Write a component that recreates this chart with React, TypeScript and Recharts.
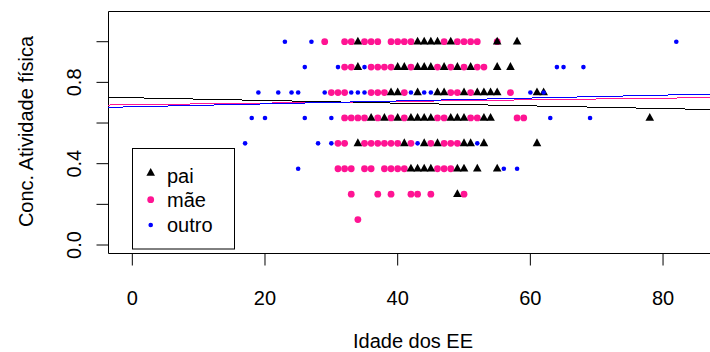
import React from 'react';
import {
  ScatterChart,
  Scatter,
  XAxis,
  YAxis,
  ReferenceLine,
  ReferenceArea,
  Customized,
} from 'recharts';

// Concentration levels (one row of points per level)
const concLevels = [1, 0.875, 0.75, 0.625, 0.5, 0.375, 0.25, 0.125];

// Ages (Idade dos EE) per concentration level, by group
const paiAges = [
  [34, 43, 44, 45, 46, 48, 55, 58],
  [34, 40, 41, 43, 44, 45, 47, 49, 51, 55, 57],
  [39, 40, 43, 46, 47, 50, 52, 53, 54, 55, 61, 62],
  [36, 38, 40, 42, 43, 44, 45, 48, 49, 50, 53, 54, 78],
  [34, 41, 44, 46, 50, 51, 53, 61],
  [42, 43, 44, 45, 49, 50, 52, 55],
  [49],
  [],
];
const maeAges = [
  [29, 32, 33, 35, 36, 37, 39, 40, 41, 42, 47, 49, 50, 51, 52, 55],
  [32, 33, 36, 37, 38, 39, 42, 46, 48, 50, 52, 53],
  [30, 31, 32, 36, 37, 38, 41, 48, 49, 51, 57],
  [32, 33, 34, 35, 37, 39, 41, 46, 47, 51, 52, 58, 59],
  [31, 32, 35, 36, 37, 38, 39, 40, 42, 45, 47, 48, 49],
  [31, 32, 33, 35, 36, 38, 39, 40, 41, 46, 47, 48],
  [33, 37, 39, 42, 43, 45, 50],
  [34],
];
const outroAges = [
  [23, 27, 82],
  [26, 31, 35, 64, 65, 68],
  [19, 22, 24, 25, 29, 33, 34, 35, 42, 44, 45, 60, 62],
  [18, 20, 26, 30, 63, 69],
  [17, 28, 30, 43, 52],
  [25, 56, 58],
  [],
  [],
];

const seriesNames = ['pai', 'mãe', 'outro'];
const seriesColors = ['#000000', '#FF1493', '#0000FF'];

// Regression lines (abline) per group: intercept and slope
const lineIntercepts = [0.7242, 0.69, 0.6798];
const lineSlopes = [-0.000663, 0.000403, 0.000718];

const xTicks = [0, 20, 40, 60, 80];
const yTicks = [0, 0.2, 0.4, 0.6, 0.8, 1.0];
const yTickLabels = ['0.0', '', '0.4', '', '0.8', ''];

const xDomain = [-3.59, 88.36];
const yDomain = [-0.0418, 1.1486];

const FONT = '"Liberation Sans", Arial, sans-serif';

const toPoints = (ages: number[][]) =>
  ages.flatMap((row, i) => row.map((a) => ({ x: a, y: concLevels[i] })));

const paiData = toPoints(paiAges);
const maeData = toPoints(maeAges);
const outroData = toPoints(outroAges);

const triPath = (cx: number, cy: number) =>
  `M${cx},${cy - 5} L${cx + 4.3},${cy + 2.8} L${cx - 4.3},${cy + 2.8} Z`;

const TriShape = (p: any) => <path d={triPath(p.cx, p.cy)} fill={seriesColors[0]} />;
const MaeShape = (p: any) => <circle cx={p.cx} cy={p.cy} r={3.4} fill={seriesColors[1]} />;
const OutroShape = (p: any) => <circle cx={p.cx} cy={p.cy} r={2.3} fill={seriesColors[2]} />;

const XTick = (p: any) => (
  <text x={p.x} y={305} textAnchor="middle" fontSize={20} fontFamily={FONT} fill="#000">
    {p.payload.value}
  </text>
);

const YTick = (p: any) => {
  const label = yTickLabels[yTicks.indexOf(p.payload.value)];
  if (!label) return <g />;
  return (
    <text
      x={81.5}
      y={p.y}
      transform={`rotate(-90, 81.5, ${p.y})`}
      textAnchor="middle"
      fontSize={20}
      fontFamily={FONT}
      fill="#000"
    >
      {label}
    </text>
  );
};

const Decorations = () => {
  const legendYs = [173, 199.7, 225];
  const legendBase = [183.3, 207.3, 231.7];
  return (
    <g>
      <text
        x={33}
        y={131.5}
        transform="rotate(-90, 33, 131.5)"
        textAnchor="middle"
        fontSize={20}
        fontFamily={FONT}
        fill="#000"
      >
        Conc. Atividade física
      </text>
      <text x={413} y={348} textAnchor="middle" fontSize={20} fontFamily={FONT} fill="#000">
        Idade dos EE
      </text>
      <rect x={132.5} y={148.5} width={102} height={100.5} fill="#fff" stroke="#000" strokeWidth={1} />
      <path d={triPath(150.7, legendYs[0])} fill={seriesColors[0]} />
      <circle cx={150.7} cy={legendYs[1]} r={3.4} fill={seriesColors[1]} />
      <circle cx={150.7} cy={legendYs[2]} r={2.3} fill={seriesColors[2]} />
      {seriesNames.map((n, i) => (
        <text key={n} x={167} y={legendBase[i]} fontSize={20} fontFamily={FONT} fill="#000">
          {n}
        </text>
      ))}
    </g>
  );
};

export default function App() {
  return (
    <div
      style={{
        position: 'absolute',
        left: 0,
        top: 0,
        width: 710,
        height: 352,
        overflow: 'hidden',
        background: '#fff',
      }}
    >
      <ScatterChart
        width={760}
        height={352}
        margin={{ top: 11.5, right: 760 - 718.5, bottom: 0, left: 0 }}
      >
        <XAxis
          type="number"
          dataKey="x"
          domain={xDomain}
          ticks={xTicks}
          height={98.5}
          tickSize={12}
          axisLine={false}
          tickLine={{ stroke: '#000' }}
          tick={XTick}
          allowDataOverflow
          interval={0}
        />
        <YAxis
          type="number"
          dataKey="y"
          domain={yDomain}
          ticks={yTicks}
          width={108.5}
          tickSize={12}
          axisLine={false}
          tickLine={{ stroke: '#000' }}
          tick={YTick}
          allowDataOverflow
          interval={0}
        />
        <ReferenceArea
          x1={xDomain[0]}
          x2={xDomain[1]}
          y1={yDomain[0]}
          y2={yDomain[1]}
          fill="none"
          fillOpacity={0}
          stroke="#000"
          strokeWidth={1}
          ifOverflow="visible"
        />
        <Scatter data={maeData} shape={MaeShape} isAnimationActive={false} />
        <Scatter data={paiData} shape={TriShape} isAnimationActive={false} />
        <Scatter data={outroData} shape={OutroShape} isAnimationActive={false} />
        {lineIntercepts.map((a, i) => (
          <ReferenceLine
            key={i}
            segment={[
              { x: xDomain[0], y: a + lineSlopes[i] * xDomain[0] },
              { x: xDomain[1], y: a + lineSlopes[i] * xDomain[1] },
            ]}
            stroke={seriesColors[i]}
            strokeWidth={1}
            shapeRendering="crispEdges"
            ifOverflow="visible"
          />
        ))}
        <Customized component={<Decorations />} />
      </ScatterChart>
    </div>
  );
}
